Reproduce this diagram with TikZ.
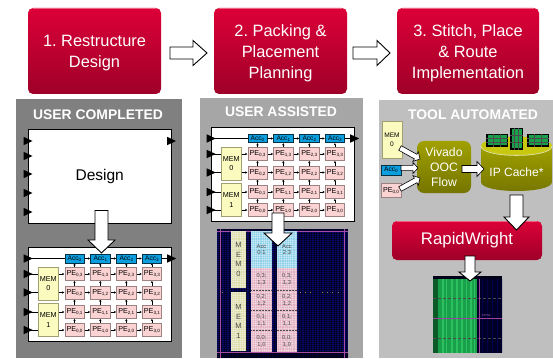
\documentclass[tikz,border=0pt]{standalone}
\usepackage{fontspec}
\setmainfont{Liberation Sans}
\usetikzlibrary{calc,arrows.meta}
\frenchspacing
\definecolor{redtop}{HTML}{DC0038}
\definecolor{redbot}{HTML}{9E0028}
\definecolor{redhi}{HTML}{F06080}
\definecolor{pefill}{HTML}{FBD3D3}
\definecolor{peline}{HTML}{9C8282}
\definecolor{memfill}{HTML}{FBFBC0}
\definecolor{memline}{HTML}{A0A070}
\definecolor{accfill}{HTML}{0C9FE0}
\definecolor{oliv}{HTML}{A0A000}
\definecolor{olivd}{HTML}{757500}
\definecolor{olivl}{HTML}{C8C810}
\definecolor{navyf}{HTML}{08086A}
\definecolor{fpmem}{HTML}{DCDCAA}
\definecolor{fpacc}{HTML}{8CD0EA}
\definecolor{fppe}{HTML}{E2B0C0}
\definecolor{grn}{HTML}{18A04A}
\definecolor{grnl}{HTML}{2CC060}
\definecolor{grnd}{HTML}{0C5A28}
\newcommand\fs[1]{\fontsize{#1}{#1}\selectfont}
\newcommand\subs[1]{\raisebox{-1.3pt}{\fs{4.6}#1}}
\tikzset{
  panel/.style={fill=#1,draw=none},
  redbox/.style={rounded corners=5pt,top color=redtop,bottom color=redbot,draw=none,minimum width=#1,inner sep=0pt},
  redtext/.style={text=white,align=center,inner sep=0pt,font=\fs{16.4}},
  paneltitle/.style={text=white,font=\bfseries\fs{13.9},inner sep=0pt},
  whitebox/.style={fill=white,draw=black,line width=1pt},
  blockarr/.style={fill=white,draw=black,line width=0.9pt,line join=miter},
  thinarr/.style={fill=white,draw=black,line width=0.6pt,line join=miter},
  pebox/.style={fill=pefill,draw=peline,line width=0.5pt,minimum width=19.5pt,minimum height=13pt,inner sep=0pt,font=\fs{7.2}},
  accbox/.style={fill=accfill,draw=black!70!accfill,line width=0.5pt,minimum width=19.5pt,minimum height=8.5pt,inner sep=0pt,font=\fs{6.6}},
  membox/.style={fill=memfill,draw=memline,line width=0.7pt,minimum width=19.5pt,inner sep=0pt,align=center,font=\fs{7.2}},
  tinywire/.style={black,line width=0.35pt,-{Stealth[length=2.2pt,width=2.4pt]},shorten >=0.2pt,shorten <=0.2pt},
  wire/.style={black,line width=0.9pt},
  portfill/.style={fill=black,draw=none},
  fpblock/.style={fill=#1,draw=none,inner sep=0pt},
  fptext/.style={text=black!70,font=\fs{5.8},align=center,inner sep=0pt},
  chipbg/.style={fill=black,draw=none},
}
\newcommand\hilite[3]{\draw[redhi,line width=0.8pt,line cap=round] (#1+5,#3+0.5) -- (#2-5,#3+0.5);}
\newcommand\blockarrow[6][blockarr]{%
  \coordinate (hb) at ($(#3)!#6!(#2)$);
  \draw[#1] ($(#2)!#4!90:(#3)$) -- ($(hb)!#4!-90:(#2)$) -- ($(hb)!#5!-90:(#2)$) -- (#3)
    -- ($(hb)!#5!90:(#2)$) -- ($(hb)!#4!90:(#2)$) -- ($(#2)!#4!-90:(#3)$) -- cycle;}
\newcommand\porttri[1]{\fill[portfill] ($(#1)+(-4,-4.2)$) -- ($(#1)+(5,0)$) -- ($(#1)+(-4,4.2)$) -- cycle;}
\newcommand\hwgrid[3]{%
\begin{scope}[shift={(#2,#3)}]
  \node[whitebox,anchor=north west,minimum width=143.5pt,minimum height=93.5pt,inner sep=0pt] (#1box) at (0,0) {};
  \foreach \c/\xx in {0/46.8,1/72.6,2/98.6,3/124.2}{
    \node[accbox] (#1a\c) at (\xx,11.5) {Acc\subs{\c}};
    \foreach \r/\yy in {3/27,2/45.5,1/65,0/83}{
      \node[pebox] (#1p\c\r) at (\xx,\yy) {PE\subs{\c,\r}};
    }
  }
  \node[membox,minimum height=33pt] (#1m0) at (20.6,36.5) {MEM\\[2pt]0};
  \node[membox,minimum height=33pt] (#1m1) at (20.6,73) {MEM\\[2pt]1};
  \coordinate (#1i0) at (0,11.5);
  \coordinate (#1i1) at (0,27);
  \coordinate (#1i2) at (0,45.5);
  \coordinate (#1i3) at (0,65);
  \coordinate (#1i4) at (0,83);
  \coordinate (#1o) at (143.5,11.5);
  \draw[wire] (#1i0) -- (#1a0.west);
  \draw[wire] (#1a3.east) -- (#1o);
  \draw[wire] (#1i1) -- (#1m0.west |- #1i1);
  \draw[wire] (#1i2) -- (#1m0.west |- #1i2);
  \draw[wire] (#1i3) -- (#1m1.west |- #1i3);
  \draw[wire] (#1i4) -- (#1m1.west |- #1i4);
  \foreach \n in {i0,i1,i2,i3,i4,o}{\porttri{#1\n}}
  \foreach \r in {0,1,2,3}{
    \draw[tinywire] (#1p0\r.west -| #1m0.east) -- (#1p0\r.west);
    \foreach \c/\d in {0/1,1/2,2/3}{\draw[tinywire] (#1p\c\r) -- (#1p\d\r);}
  }
  \foreach \c/\d in {0/1,1/2,2/3}{\draw[tinywire] (#1a\c) -- (#1a\d);}
  \foreach \c in {0,1,2,3}{
    \draw[tinywire] (#1p\c3) -- (#1a\c);
    \foreach \r/\s in {0/1,1/2,2/3}{\draw[tinywire] (#1p\c\r) -- (#1p\c\s);}
  }
  \foreach \c in {0,1,2,3}{
    \node[accbox] at (#1a\c) {Acc\subs{\c}};
    \foreach \r in {0,1,2,3}{\node[pebox] at (#1p\c\r) {PE\subs{\c,\r}};}
  }
\end{scope}}
\newcommand\chip[4]{%
  \fill[chipbg] (#1,#2) rectangle (#3,#4);
  \fill[grn] ($(#1,#2)+(1.5,1.5)$) rectangle ($(#3,#4)+(-1.5,-1.5)$);
  \draw[black!70,line width=0.3pt] ($(#1,#2)!0.33!(#1,#4)$) -- ($(#3,#2)!0.33!(#3,#4)$)
     ($(#1,#2)!0.66!(#1,#4)$) -- ($(#3,#2)!0.66!(#3,#4)$)
     ($(#1,#2)!0.33!(#3,#2)$) -- ($(#1,#4)!0.33!(#3,#4)$)
     ($(#1,#2)!0.66!(#3,#2)$) -- ($(#1,#4)!0.66!(#3,#4)$);}
\begin{document}
\begin{tikzpicture}[x=1pt,y=-1pt]
\useasboundingbox (0,0) rectangle (553,358);
\fill[white] (0,0) rectangle (553,358);
\fill[panel=black!50] (16,99) rectangle (182,358);
\fill[panel=black!35] (200,98) rectangle (363,358);
\fill[panel=black!25] (379,100) rectangle (553,358);
% header boxes
\node[redbox=133pt,minimum height=86pt] (s1) at (94.5,51) {};
\node[redbox=133pt,minimum height=86pt] (s2) at (280.5,51) {};
\node[redbox=142pt,minimum height=86pt] (s3) at (468,51) {};
\node[redtext] (s1t) at (94.5,53.5) {1. Restructure\\[4.6pt]Design};
\node[redtext] (s2t) at (280.5,53) {2. Packing \&\\[4.6pt]Placement\\[4.6pt]Planning};
\node[redtext] (s3t) at (468,53) {3. Stitch, Place\\[4.6pt]\& Route\\[4.6pt]Implementation};
\hilite{28}{161}{8}
\hilite{214}{347}{8}
\hilite{397}{539}{8}
\coordinate (a1s) at (170,53); \coordinate (a1e) at (207,53);
\coordinate (a2s) at (353,53); \coordinate (a2e) at (390,53);
\blockarrow{a1s}{a1e}{6pt}{12.5pt}{14pt}
\blockarrow{a2s}{a2e}{6pt}{12.5pt}{13pt}
% titles
\node[paneltitle] (t1) at (98,115) {USER COMPLETED};
\node[paneltitle] (t2) at (281,112) {USER ASSISTED};
\node[paneltitle] (t3) at (473,115) {TOOL AUTOMATED};
% panel 1
\node[whitebox,anchor=north west,minimum width=143.5pt,minimum height=94pt,inner sep=0pt,font=\fs{15.5}] (design) at (27.5,129) {\raisebox{-1pt}{Design}};
\foreach \y in {141,156,174,193,212}{\coordinate (dp\y) at (27.5,\y); \porttri{dp\y}}
\coordinate (dpo) at (171,141); \porttri{dpo}
\hwgrid{u}{27.7}{247}
\coordinate (a3s) at (101.5,210.5); \coordinate (a3e) at (101.5,253);
\blockarrow{a3s}{a3e}{6.5pt}{13.5pt}{13pt}
% panel 2
\hwgrid{v}{210.7}{127}
% floorplan
\fill[navyf] (217,229) rectangle (348,358);
\begin{scope}
  \clip (217,229) rectangle (348,358);
  \foreach \x in {219,221.5,...,348}{\draw[black,opacity=.5,line width=0.6pt] (\x,229) -- (\x,358);}
  \foreach \y in {231,233,...,358}{\draw[black,opacity=.45,line width=0.4pt] (217,\y) -- (348,\y);}
  \fill[black,opacity=.45] (217,352.5) rectangle (348,358) (217,229) rectangle (348,231);
  \draw[violet!70,line width=0.5pt] (217,231) -- (348,231) (217,352) -- (348,352) (220,229) -- (220,358) (344,229) -- (344,358);
\end{scope}
\foreach \x in {222,250,300,305,310,322,327,332,338}{\fill[yellow!50!black] (\x,291.5) rectangle ++(1.2,1);}
\node[fpblock=fpmem,minimum width=15pt,minimum height=57pt] (fm0) at (238.5,259.5) {};
\node[fpblock=fpmem,minimum width=15pt,minimum height=59pt] (fm1) at (238.5,321.5) {};
\node[fpblock=fpacc,minimum width=21pt,minimum height=37pt] (facc0) at (261.5,249.5) {};
\node[fpblock=fpacc,minimum width=20pt,minimum height=37pt] (facc1) at (287,249.5) {};
\foreach \n/\x/\w in {a/261.5/21pt,b/287/20pt}{
  \foreach \r/\yy/\hh in {3/279/22pt,2/300/20pt,1/320/20pt,0/341/22pt}{
    \node[fpblock=fppe,minimum width=\w,minimum height=\hh] (pp\n\r) at (\x,\yy) {};
  }
}
\begin{scope}
  \clip (231,231) rectangle (246,288) (231,292) rectangle (246,351) (251,231) rectangle (272,352) (277,231) rectangle (297,352);
  \foreach \x in {231,233.2,...,298}{\draw[white,line width=0.3pt,opacity=.3] (\x,229) -- (\x,352);}
  \foreach \y in {231,233.2,...,353}{\draw[white,line width=0.3pt,opacity=.3] (229,\y) -- (298,\y);}
  \draw[black!70,densely dotted,line width=0.5pt] (251,290) -- (297,290) (251,310) -- (297,310) (251,330) -- (297,330);
\end{scope}
\node[fptext,font=\fs{7.5}] at (fm0) {M\\[2pt]E\\[2pt]M\\[2pt]0};
\node[fptext,font=\fs{7.5}] at (fm1) {M\\[2pt]E\\[2pt]M\\[2pt]1};
\node[fptext] at (facc0) {Acc\\[1pt]0:1};
\node[fptext] at (facc1) {Acc\\[1pt]2:3};
\foreach \n in {a,b}{
  \foreach \r in {0,1,2,3}{\node[fptext] at (pp\n\r) {0,\r;\\[1pt]1,\r};}
}
\coordinate (a4s) at (278,213); \coordinate (a4e) at (278,246);
\blockarrow{a4s}{a4e}{6pt}{14pt}{13pt}
% panel 3 inputs
\node[membox,minimum width=20pt,minimum height=37pt,font=\fs{6.6}] (imem) at (392,139.5) {MEM\\[2pt]0};
\node[accbox,minimum width=20pt,minimum height=10pt] (iacc) at (391,170) {Acc\subs{0}};
\node[pebox,minimum width=20pt,minimum height=14pt] (ipe) at (391,190.5) {PE\subs{0,0}};
\node[rounded corners=7pt,top color=oliv,bottom color=olivd,minimum width=54pt,minimum height=52pt,inner sep=0pt,align=center,text=white,font=\fs{12.2}] (viv) at (444,167) {Vivado\\[2.8pt]OOC\\[2.8pt]Flow};
% cache cylinder
\shade[top color=oliv,bottom color=olivd] (481,146) -- (481,182) .. controls (481,194) and (552,194) .. (552,182) -- (552,146) -- cycle;
\fill[olivl] (516.5,146) ellipse[x radius=35.5pt,y radius=9.5pt];
\draw[white!65!oliv,line width=0.8pt] (481,146) .. controls (481,158.5) and (552,158.5) .. (552,146);
\node[inner sep=0pt,text=white,font=\fs{12}] (cache) at (516.5,172) {IP Cache*};
\chip{486}{134}{508}{147}
\chip{510}{128}{523}{150}
\chip{527}{134}{549}{147}
\coordinate (c1) at (420,159); \coordinate (c2) at (418,168); \coordinate (c3) at (420,178);
\coordinate (cvs) at (462,169); \coordinate (cve) at (484,169);
\coordinate (m1) at (400,148); \coordinate (a0) at (401,168); \coordinate (p1) at (400,189);
\blockarrow[thinarr]{m1}{c1}{2.6pt}{5.5pt}{5pt}
\blockarrow[thinarr]{a0}{c2}{2.6pt}{5.5pt}{5pt}
\blockarrow[thinarr]{p1}{c3}{2.6pt}{5.5pt}{5pt}
\blockarrow[thinarr]{cvs}{cve}{3.5pt}{7.5pt}{7pt}
\node[redbox=150pt,minimum height=39pt] (rw) at (467,240.5) {};
\node[redtext,font=\fs{16.8}] (rwt) at (467,240.5) {RapidWright};
\hilite{392}{542}{221}
\coordinate (a5s) at (516.5,195); \coordinate (a5e) at (516.5,230);
\blockarrow{a5s}{a5e}{6.5pt}{12.5pt}{13pt}
% placed device
\fill[black!90!blue] (433,276) rectangle (502,353);
\begin{scope}
  \clip (433,279) rectangle (502,353);
  \fill[grnd] (433,279) rectangle (438,353);
  \fill[grn] (438,279) rectangle (477,353);
  \foreach \x/\w in {442/1.6,446/1.2,451/2.2,456/1.5,461/1.8,466/1.2,470/2,474/1.4}{
    \fill[grnl] (\x,279) rectangle ++(\w,74);
  }
  \fill[black!85!blue] (477,279) rectangle (502,353);
  \foreach \x in {482,487,...,502}{\draw[blue!30!black,line width=0.4pt] (\x,279) -- (\x,353);}
  \foreach \y in {298,338}{\draw[black!70,densely dashed,line width=0.4pt] (433,\y) -- (502,\y);}
  \draw[violet!75,line width=0.7pt] (479,279) -- (479,353) (433,318.5) -- (502,318.5);
  \node[text=violet!60!white,font=\fs{3},inner sep=0pt] at (486,315) {X2Y64};
\end{scope}
\coordinate (a6s) at (470,256); \coordinate (a6e) at (470,281);
\blockarrow{a6s}{a6e}{5pt}{11pt}{9pt}
\end{tikzpicture}
\end{document}
